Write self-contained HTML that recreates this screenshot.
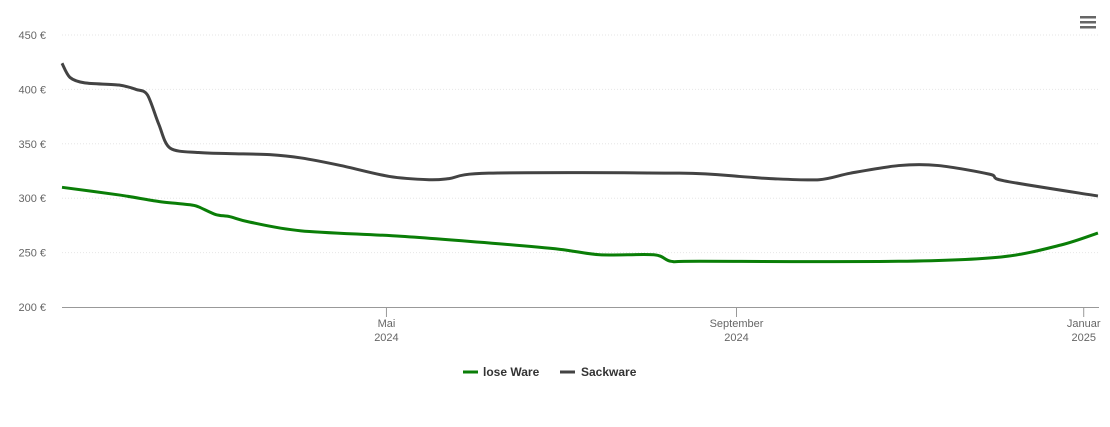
<!DOCTYPE html>
<html><head><meta charset="utf-8"><style>
body{margin:0;background:#fff;font-family:"Liberation Sans",sans-serif;}
svg text{font-family:"Liberation Sans",sans-serif;}
</style></head><body>
<svg id="c" width="1110" height="422">
<g>
<rect x="1080" y="16" width="16" height="2.5" fill="#666"/><rect x="1080" y="21" width="16" height="2.5" fill="#666"/><rect x="1080" y="26" width="16" height="2.5" fill="#666"/>
</g>
<g id="grid"></g><g id="axes"></g><g id="series"></g>
<g>
<g><line x1="463" y1="372" x2="478" y2="372" stroke="#0a7e07" stroke-width="3"/><text x="483" y="376" font-size="12" font-weight="bold" fill="#333">lose Ware</text></g>
<g><line x1="560" y1="372" x2="575" y2="372" stroke="#434343" stroke-width="3"/><text x="581" y="376" font-size="12" font-weight="bold" fill="#333">Sackware</text></g>
</g>
</svg>
<script>
const yTicks=[200,250,300,350,400,450];
const xTickLabels=[["Mai","2024"],["September","2024"],["Januar","2025"]];
const xTickDays=[114,237,359];
const grayDays=[0,2.8,8,20,26,30,34,38,48,59,73,84,98,115,129,136,150,217,238,249,266,277,294,308,326,331,364];
const grayVals=[424,411,406,404,400,395,368,346,342,341,340,337,330,320,317,318,323,323,320,318,317,323,330,330,322,316,302];
const greenDays=[0,20,34,45,48,54,59,66,84,119,154,175,189,208,214,224,294,330,351,364];
const greenVals=[310,303,297,294,292,285,283,278,270,265,258,253,248,248,242,242,242,246,257,268];
const NS="http://www.w3.org/2000/svg";
const x0=62,x1=1099,yTop=35,yBot=307;
const X=d=>x0+d*2.846;
const Y=v=>yBot-(v-200)*(yBot-yTop)/250;
function mk(t,a,p){const e=document.createElementNS(NS,t);for(const k in a)e.setAttribute(k,a[k]);p.appendChild(e);return e;}
const grid=document.getElementById('grid'),axes=document.getElementById('axes'),ser=document.getElementById('series');
yTicks.forEach(v=>{
 if(v>200){const l=mk('line',{x1:x0,x2:x1,y1:Y(v),y2:Y(v),stroke:'#e6e6e6','stroke-width':1,'stroke-dasharray':'1,2'},grid);
 
 }
 const t=mk('text',{x:46,y:Y(v)+4,'text-anchor':'end','font-size':11,fill:'#666'},axes);t.textContent=v+' €';
 
 
});
const ax=mk('line',{x1:x0,x2:x1,y1:yBot+0.5,y2:yBot+0.5,stroke:'#999','stroke-width':1},axes);


xTickDays.forEach((d,i)=>{
 const tk=mk('line',{x1:X(d),x2:X(d),y1:yBot,y2:yBot+10,stroke:'#999'},axes);
 
 
 const t=mk('text',{x:X(d),y:327,'text-anchor':'middle','font-size':11,fill:'#666'},axes);
 
 
 mk('tspan',{x:X(d),dy:0},t).textContent=xTickLabels[i][0];
 mk('tspan',{x:X(d),dy:14},t).textContent=xTickLabels[i][1];
});
function path(days,vals){const p=days.map((d,i)=>[X(d),Y(vals[i])]);let s='M'+p[0][0]+','+p[0][1];
 for(let i=0;i<p.length-1;i++){const a=p[Math.max(i-1,0)],b=p[i],c=p[i+1],e=p[Math.min(i+2,p.length-1)],k=0.15;
 s+=' C'+(b[0]+(c[0]-a[0])*k)+','+(b[1]+(c[1]-a[1])*k)+' '+(c[0]-(e[0]-b[0])*k)+','+(c[1]-(e[1]-b[1])*k)+' '+c[0]+','+c[1];}return s;}
const g=mk('path',{d:path(greenDays,greenVals),fill:'none',stroke:'#0a7e07','stroke-width':3,'stroke-linejoin':'round'},ser);


const s=mk('path',{d:path(grayDays,grayVals),fill:'none',stroke:'#434343','stroke-width':3,'stroke-linejoin':'round'},ser);


</script>
</body></html>
